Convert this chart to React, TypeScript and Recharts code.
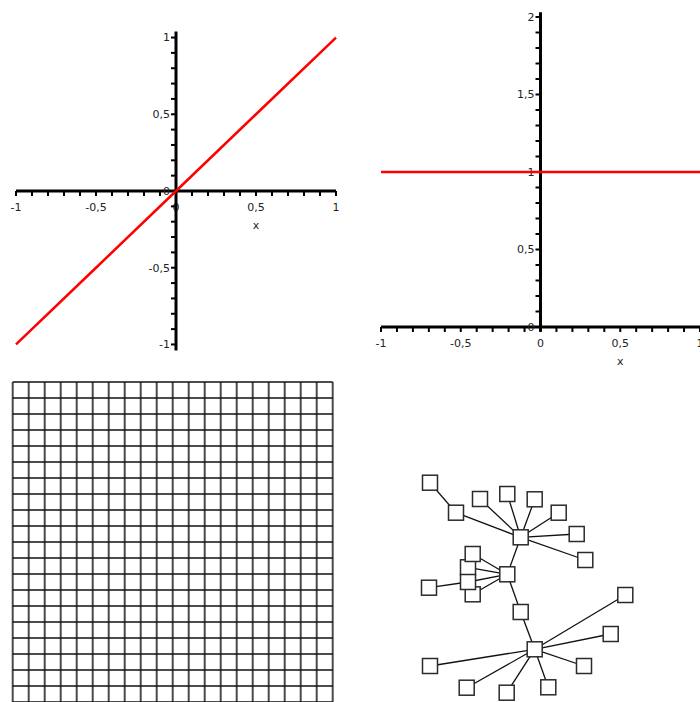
import React from 'react';
import {
  LineChart,
  Line,
  XAxis,
  YAxis,
  ScatterChart,
  Scatter,
  ReferenceLine,
  ReferenceDot,
} from 'recharts';

// ---------- data: top-left plot (y = x) ----------
const plot1X = [-1, -0.5, 0, 0.5, 1];
const plot1Y = [-1, -0.5, 0, 0.5, 1];

// ---------- data: top-right plot (y = 1) ----------
const plot2X = [-1, -0.5, 0, 0.5, 1];
const plot2Y = [1, 1, 1, 1, 1];

// ---------- ticks ----------
const xMinorTicks = [-1, -0.9, -0.8, -0.7, -0.6, -0.5, -0.4, -0.3, -0.2, -0.1, 0, 0.1, 0.2, 0.3, 0.4, 0.5, 0.6, 0.7, 0.8, 0.9, 1];
const y1MinorTicks = [-1, -0.9, -0.8, -0.7, -0.6, -0.5, -0.4, -0.3, -0.2, -0.1, 0, 0.1, 0.2, 0.3, 0.4, 0.5, 0.6, 0.7, 0.8, 0.9, 1];
const y2MinorTicks = [0, 0.1, 0.2, 0.3, 0.4, 0.5, 0.6, 0.7, 0.8, 0.9, 1, 1.1, 1.2, 1.3, 1.4, 1.5, 1.6, 1.7, 1.8, 1.9, 2];
const xLabelTicks = [-1, -0.5, 0, 0.5, 1];
const xTickLabels = ['-1', '-0,5', '0', '0,5', '1'];
const y1LabelTicks = [-1, -0.5, 0, 0.5, 1];
const y1TickLabels = ['-1', '-0,5', '0', '0,5', '1'];
const y2LabelTicks = [0, 0.5, 1, 1.5, 2];
const y2TickLabels = ['0', '0,5', '1', '1,5', '2'];
const axisTitle = 'x';

// ---------- data: grid (20 x 20 cells) ----------
const gridTicks = [0, 1, 2, 3, 4, 5, 6, 7, 8, 9, 10, 11, 12, 13, 14, 15, 16, 17, 18, 19, 20];

// ---------- data: network graph ----------
const nodeIds = ['K2', 'K4', 'K1', 'K3', 'A', 'B', 'C', 'D', 'E', 'F', 'G', 'H', 'Hub1', 'Hub2', 'L', 'M', 'Hub3', 'P1', 'P2', 'P3', 'P4', 'P5', 'P6', 'P7'];
const nodeX = [118, 122.7, 122.7, 118, 80, 106, 130, 157.3, 184.7, 208.7, 226.7, 235.3, 170.7, 157.3, 79, 170.7, 184.7, 275.3, 260.7, 234, 198.3, 156.7, 116.7, 80];
const nodeY = [127.3, 154.3, 114, 142, 42.7, 72.7, 59, 54, 59.3, 72.7, 94, 120, 97.3, 134.3, 147.7, 172, 209.3, 155, 194, 226, 247.3, 252.7, 247.7, 226];
const edgeFrom = ['A', 'B', 'C', 'D', 'E', 'F', 'G', 'H', 'Hub1', 'K1', 'K2', 'K3', 'K4', 'L', 'Hub2', 'M', 'Hub3', 'Hub3', 'Hub3', 'Hub3', 'Hub3', 'Hub3', 'Hub3'];
const edgeTo = ['B', 'Hub1', 'Hub1', 'Hub1', 'Hub1', 'Hub1', 'Hub1', 'Hub1', 'Hub2', 'Hub2', 'Hub2', 'Hub2', 'Hub2', 'K3', 'M', 'Hub3', 'P1', 'P2', 'P3', 'P4', 'P5', 'P6', 'P7'];

const FONT = '"DejaVu Sans", sans-serif';
const tickStyle = { fontSize: 11, fontFamily: FONT, fill: '#222' };

const makeFormatter = (vals: number[], labels: string[]) => (v: number) => {
  const i = vals.findIndex((t) => Math.abs(t - v) < 1e-9);
  return i >= 0 ? labels[i] : '';
};

type CrossPlotProps = {
  left: number;
  top: number;
  w: number;
  h: number;
  m: { left: number; right: number; top: number; bottom: number };
  x0: number;
  y0: number;
  xDomain: [number, number];
  yDomain: [number, number];
  xTicks: number[];
  yTicks: number[];
  fmtX: (v: number) => string;
  fmtY: (v: number) => string;
  data: { x: number; y: number }[];
};

function CrossPlot(p: CrossPlotProps) {
  const XH = 30;
  const YW = 40;
  const layer: React.CSSProperties = { position: 'absolute', left: 0, top: 0 };
  return (
    <div style={{ position: 'absolute', left: p.left, top: p.top, width: p.w, height: p.h }}>
      {/* x axis crossing at y = 0 */}
      <div style={layer}>
        <LineChart
          width={p.w}
          height={p.h}
          data={p.data}
          margin={{ left: p.m.left, right: p.m.right, top: p.m.top, bottom: p.h - p.y0 - XH }}
        >
          <XAxis
            dataKey="x"
            type="number"
            domain={p.xDomain}
            ticks={p.xTicks}
            interval={0}
            tickFormatter={p.fmtX}
            height={XH}
            tickSize={5}
            tickMargin={7}
            axisLine={{ stroke: '#000', strokeWidth: 3 }}
            tickLine={{ stroke: '#000', strokeWidth: 2 }}
            tick={tickStyle}
          />
          <YAxis dataKey="y" type="number" domain={p.yDomain} hide />
        </LineChart>
      </div>
      {/* y axis crossing at x = 0 */}
      <div style={layer}>
        <LineChart
          width={p.w}
          height={p.h}
          data={p.data}
          margin={{ left: p.x0 - YW, right: p.m.right, top: p.m.top, bottom: p.m.bottom }}
        >
          <XAxis dataKey="x" type="number" domain={p.xDomain} hide />
          <YAxis
            dataKey="y"
            type="number"
            domain={p.yDomain}
            ticks={p.yTicks}
            interval={0}
            tickFormatter={p.fmtY}
            width={YW}
            tickSize={5}
            tickMargin={1}
            axisLine={{ stroke: '#000', strokeWidth: 3 }}
            tickLine={{ stroke: '#000', strokeWidth: 2 }}
            tick={tickStyle}
          />
          <Line dataKey="y" stroke="none" dot={false} activeDot={false} isAnimationActive={false} />
        </LineChart>
      </div>
      {/* curve + axis title */}
      <div style={layer}>
        <LineChart width={p.w} height={p.h} data={p.data} margin={p.m}>
          <XAxis dataKey="x" type="number" domain={p.xDomain} hide />
          <YAxis dataKey="y" type="number" domain={p.yDomain} hide />
          <Line
            dataKey="y"
            type="linear"
            stroke="#ff0000"
            strokeWidth={2.5}
            dot={false}
            isAnimationActive={false}
          />
          <ReferenceDot
            x={0.5}
            y={0}
            r={1}
            fill="none"
            stroke="none"
            ifOverflow="visible"
            label={{ value: axisTitle, position: 'bottom', offset: 29, ...tickStyle }}
          />
        </LineChart>
      </div>
    </div>
  );
}

const SquareNode = (props: any) => {
  const { cx, cy } = props;
  if (cx == null || cy == null) return null;
  const s = 15;
  return <rect x={cx - s / 2} y={cy - s / 2} width={s} height={s} fill="#fff" stroke="#2a2a2a" strokeWidth={1.5} />;
};

export default function App() {
  const data1 = plot1X.map((x, i) => ({ x, y: plot1Y[i] }));
  const data2 = plot2X.map((x, i) => ({ x, y: plot2Y[i] }));
  const gridData = gridTicks.map((t) => ({ x: t, y: t }));
  const nodes = nodeIds.map((id, i) => ({ id, x: nodeX[i], y: nodeY[i] }));
  const pos = (id: string) => nodes.find((n) => n.id === id)!;
  const edges = edgeFrom.map((f, i) => [pos(f), pos(edgeTo[i])]);

  return (
    <div style={{ position: 'absolute', left: 0, top: 0, width: 700, height: 702, overflow: 'hidden', background: '#fff' }}>
      <CrossPlot
        left={0}
        top={0}
        w={350}
        h={360}
        m={{ left: 16, right: 14, top: 31.4, bottom: 9.4 }}
        x0={176}
        y0={191}
        xDomain={[-1, 1]}
        yDomain={[-1.04, 1.04]}
        xTicks={xMinorTicks}
        yTicks={y1MinorTicks}
        fmtX={makeFormatter(xLabelTicks, xTickLabels)}
        fmtY={makeFormatter(y1LabelTicks, y1TickLabels)}
        data={data1}
      />
      <CrossPlot
        left={350}
        top={0}
        w={350}
        h={380}
        m={{ left: 31, right: 0, top: 12.35, bottom: 48.35 }}
        x0={190.5}
        y0={327}
        xDomain={[-1, 1]}
        yDomain={[-0.03, 2.03]}
        xTicks={xMinorTicks}
        yTicks={y2MinorTicks}
        fmtX={makeFormatter(xLabelTicks, xTickLabels)}
        fmtY={makeFormatter(y2LabelTicks, y2TickLabels)}
        data={data2}
      />

      {/* grid */}
      <div style={{ position: 'absolute', left: 0, top: 370 }}>
        <LineChart width={350} height={340} data={gridData} margin={{ left: 12.7, right: 17.3, top: 12, bottom: 8 }}>
          <XAxis type="number" dataKey="x" domain={[0, 20]} hide />
          <YAxis type="number" dataKey="y" domain={[0, 20]} reversed hide />
          {gridTicks.map((t) => (
            <ReferenceLine key={'v' + t} x={t} stroke="#4a4a4a" strokeWidth={2} ifOverflow="visible" />
          ))}
          {gridTicks.map((t) => (
            <ReferenceLine key={'h' + t} y={t} stroke="#111" strokeWidth={1.6} ifOverflow="visible" />
          ))}
          <Line dataKey="y" stroke="none" dot={false} activeDot={false} isAnimationActive={false} />
        </LineChart>
      </div>

      {/* network graph */}
      <div style={{ position: 'absolute', left: 350, top: 440 }}>
        <ScatterChart width={350} height={262} margin={{ left: 0, right: 0, top: 0, bottom: 0 }}>
          <XAxis type="number" dataKey="x" domain={[0, 350]} hide />
          <YAxis type="number" dataKey="y" domain={[0, 262]} reversed hide />
          {edges.map(([a, b], i) => (
            <ReferenceLine
              key={i}
              segment={[{ x: a.x, y: a.y }, { x: b.x, y: b.y }]}
              stroke="#111"
              strokeWidth={1.3}
              ifOverflow="visible"
            />
          ))}
          <Scatter data={nodes} shape={SquareNode} isAnimationActive={false} />
        </ScatterChart>
      </div>
    </div>
  );
}
